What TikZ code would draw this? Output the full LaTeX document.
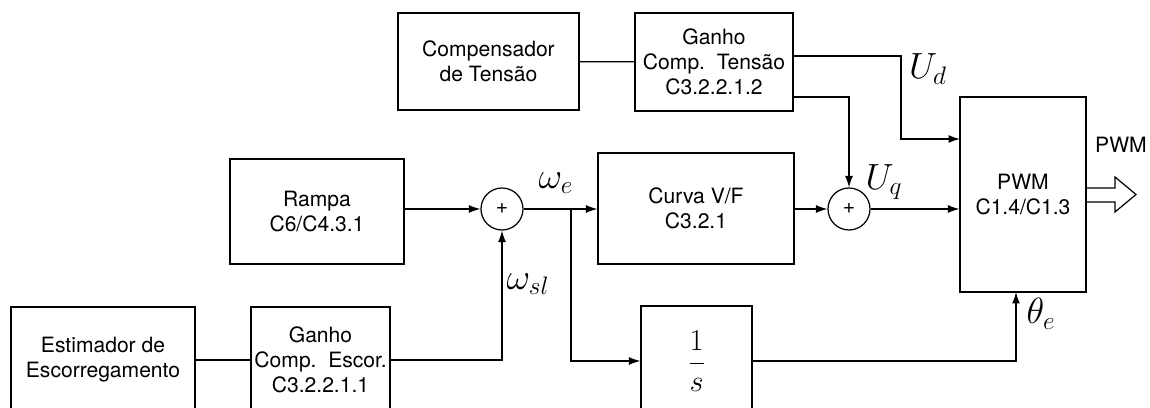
\documentclass[tikz,border=0pt]{standalone}
\usepackage{fontspec}
\setmainfont{TeX Gyre Heros}
\usepackage{tikz}
\usetikzlibrary{calc,arrows.meta}
\tikzset{
  % --- BLOCKS ---
  bloco/.style={
    draw=black,
    line width=0.7pt,
    fill=white,
    font=\fontsize{12}{14.2}\selectfont,
    align=center,
    inner sep=2pt
  },
  somador/.style={
    draw=black,
    line width=0.7pt,
    circle,
    minimum size=0.84cm,
    inner sep=0pt,
    font=\fontsize{12}{12}\selectfont
  },
  % --- LABELS ---
  sinal/.style={
    font=\fontsize{20}{24}\selectfont
  },
  rotulo/.style={
    font=\fontsize{12}{14}\selectfont
  },
  % --- ARROWS ---
  arrw/.style={
    draw=black,
    line width=0.7pt,
    -{Latex[length=6.5pt,width=4.5pt]}
  },
  linha/.style={
    draw=black,
    line width=0.7pt
  },
}

\begin{document}
\begin{tikzpicture}[x=0.02cm, y=-0.02cm]
  \useasboundingbox (0,0) rectangle (1150,408);
  \clip (0,0) rectangle (1150,408);
  % --- blocks top
  \node[bloco, minimum width=3.62cm, minimum height=1.94cm] (comp)   at (488.5, 61.5) {Compensador\\de Tensão};
  \node[bloco, minimum width=3.16cm, minimum height=1.96cm] (gtens)  at (714, 62)  {Ganho\\Comp.\ \ Tensão\\C3.2.2.1.2};
  % --- blocks middle
  \node[bloco, minimum width=3.48cm, minimum height=2.10cm] (rampa)  at (317, 211.5) {Rampa\\C6/C4.3.1};
  \node[somador] (soma1) at (502, 209) {+};
  \node[bloco, minimum width=3.92cm, minimum height=2.22cm] (curva)  at (696, 208.5) {Curva V/F\\C3.2.1};
  \node[somador] (soma2) at (849, 209) {+};
  \node[bloco, minimum width=2.52cm, minimum height=3.90cm] (pwm)    at (1023, 194.5) {PWM\\C1.4/C1.3};
  % --- blocks bottom
  \node[bloco, minimum width=3.68cm, minimum height=2.12cm] (estim)  at (103, 360) {Estimador de\\Escorregamento};
  \node[bloco, minimum width=2.78cm, minimum height=2.12cm] (gescor) at (320.5, 360) {Ganho\\Comp.\ \ Escor.\\C3.2.2.1.1};
  \node[bloco, minimum width=2.22cm, minimum height=2.20cm] (integ)  at (696.5, 361) {\fontsize{17.7}{20}\selectfont$\displaystyle\frac{1}{s}$};
  % --- auxiliary coordinates
  \coordinate (ud)    at (901, 56);
  \coordinate (pwmd)  at (960, 139);
  \coordinate (uq)    at (793, 97);
  \coordinate (ramo)  at (571, 209);
  \coordinate (pwmth) at (1016, 292);
  \coordinate (ponta) at (1136, 194.5);
  % --- connectors
  \draw[linha] (comp) -- (gtens);
  \draw[arrw]  (gtens.east |- ud) -- (ud) |- (pwmd);
  \draw[arrw]  (uq) -| (soma2.north);
  \draw[arrw]  (rampa.east |- soma1) -- (soma1.west);
  \draw[arrw]  (soma1.east) -- (curva.west |- soma1);
  \draw[arrw]  (ramo) |- (integ.west);
  \draw[linha] (estim) -- (gescor);
  \draw[arrw]  (gescor.east) -| (soma1.south);
  \draw[arrw]  (curva.east |- soma2) -- (soma2.west);
  \draw[arrw]  (soma2.east) -- (pwm.west |- soma2);
  \draw[arrw]  (integ.east) -| (pwmth);
  % --- PWM output (hollow arrow)
  \draw[linha] (pwm.east |- 0,188) -- (1115,188) -- (1115,177) -- (ponta)
               -- (1115,212) -- (1115,202) -- (pwm.east |- 0,202);
  % --- signal labels
  \node[sinal] (lwe)  at (556, 183) {$\omega_e$};
  \node[sinal] (lwsl) at (528, 284) {$\omega_{sl}$};
  \node[sinal] (luq)  at (884, 182) {$U_q$};
  \node[sinal] (lud)  at (928, 69)  {$U_d$};
  \node[sinal] (lth)  at (1041, 314) {$\theta_e$};
  \node[rotulo] (lpwm) at (1121, 145) {PWM};
\end{tikzpicture}
\end{document}
